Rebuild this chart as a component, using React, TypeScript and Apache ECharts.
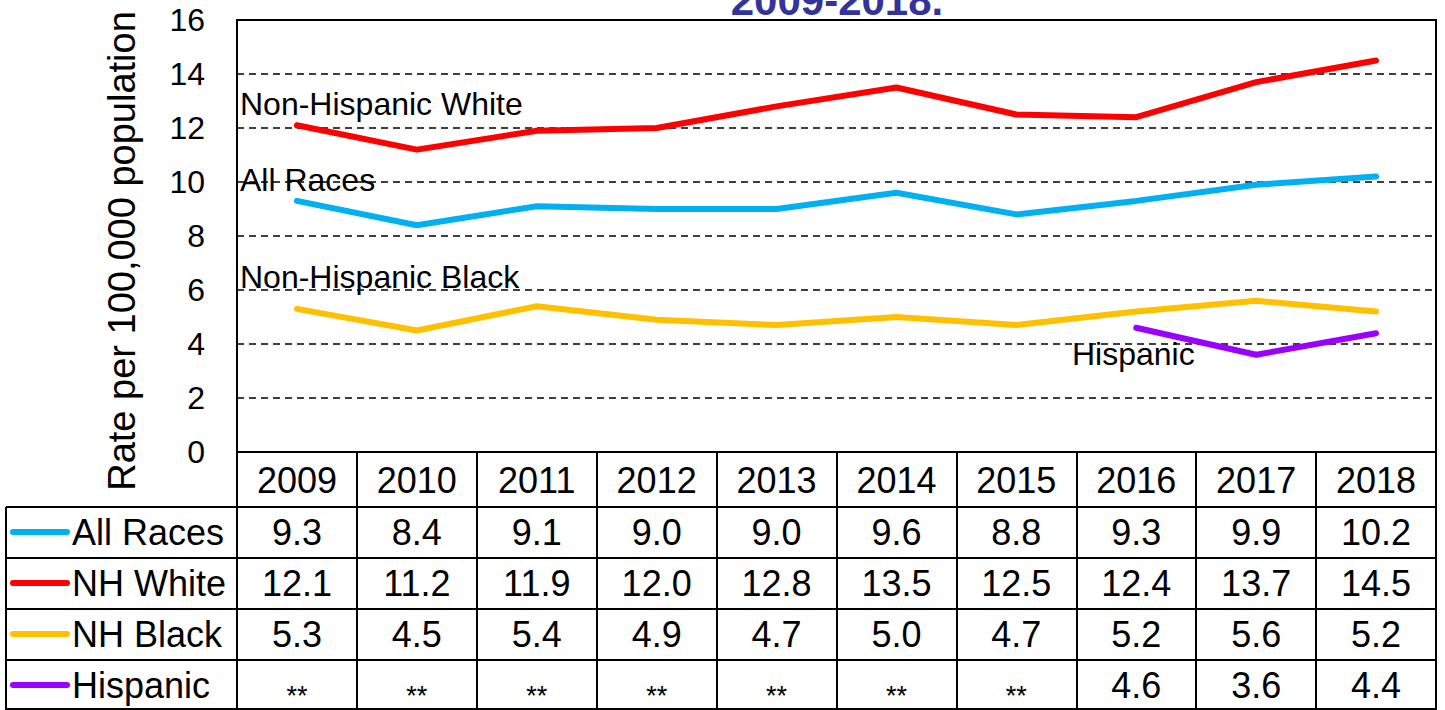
import React, { useEffect, useRef } from "react";
import * as echarts from "echarts";

const years = ["2009", "2010", "2011", "2012", "2013", "2014", "2015", "2016", "2017", "2018"];
const allRaces = [9.3, 8.4, 9.1, 9.0, 9.0, 9.6, 8.8, 9.3, 9.9, 10.2];
const nhWhite = [12.1, 11.2, 11.9, 12.0, 12.8, 13.5, 12.5, 12.4, 13.7, 14.5];
const nhBlack = [5.3, 4.5, 5.4, 4.9, 4.7, 5.0, 4.7, 5.2, 5.6, 5.2];
const hispanic: (number | null)[] = [null, null, null, null, null, null, null, 4.6, 3.6, 4.4];

const seriesNames = ["All Races", "NH White", "NH Black", "Hispanic"];
const seriesData = [allRaces, nhWhite, nhBlack, hispanic];
const seriesColors = ["#00B0F0", "#FF0000", "#FFC000", "#9A00FF"];
const lineLabels = ["All Races", "Non-Hispanic White", "Non-Hispanic Black", "Hispanic"];
const titleText = "2009-2018.";
const yAxisName = "Rate per 100,000 population";

const FONT = "'Liberation Sans', Arial, sans-serif";

export default function App() {
  const ref = useRef<HTMLDivElement>(null);
  useEffect(() => {
    if (!ref.current) return;
    const chart = echarts.init(ref.current, null, { renderer: "svg" });

    const fmt = (v: number | null) => (v == null ? "{s|**}" : "{v|" + v.toFixed(1) + "}");

    const gridLeft = 237;
    const gridRight = 1436;
    const rowLines = [507, 558, 609, 660, 709];
    const rowCenters = [532, 583, 634, 685];
    const labelPos: [number, number][] = [
      [240, 180],
      [240, 104],
      [240, 277],
      [1072, 354],
    ];

    const graphics: any[] = [];
    rowLines.forEach((y) => {
      graphics.push({
        type: "line",
        shape: { x1: 6, y1: y, x2: gridRight, y2: y },
        style: { stroke: "#000", lineWidth: 2 },
        z: 10,
      });
    });
    graphics.push({
      type: "line",
      shape: { x1: 6, y1: 507, x2: 6, y2: 710 },
      style: { stroke: "#000", lineWidth: 2 },
      z: 10,
    });
    seriesNames.forEach((name, i) => {
      graphics.push({
        type: "line",
        shape: { x1: 13, y1: rowCenters[i], x2: 67, y2: rowCenters[i] },
        style: { stroke: seriesColors[i], lineWidth: 6, lineCap: "round" },
        z: 10,
      });
      graphics.push({
        type: "text",
        x: 72,
        y: rowCenters[i],
        style: {
          text: name,
          font: `36px ${FONT}`,
          fill: "#000",
          textAlign: "left",
          textVerticalAlign: "middle",
        },
        z: 10,
      });
      graphics.push({
        type: "text",
        x: labelPos[i][0],
        y: labelPos[i][1],
        style: {
          text: lineLabels[i],
          font: `32px ${FONT}`,
          fill: "#000",
          textAlign: "left",
          textVerticalAlign: "middle",
        },
        z: 1,
      });
    });
    graphics.push({
      type: "text",
      x: 837,
      y: 0,
      style: {
        text: titleText,
        font: `bold 42px ${FONT}`,
        fill: "#333399",
        textAlign: "center",
        textVerticalAlign: "middle",
      },
      z: 10,
    });
    graphics.push({
      type: "text",
      x: 122,
      y: 251,
      rotation: Math.PI / 2,
      style: {
        text: yAxisName,
        font: `38px ${FONT}`,
        fill: "#000",
        textAlign: "center",
        textVerticalAlign: "middle",
      },
      z: 10,
    });

    chart.setOption({
      animation: false,
      backgroundColor: "#fff",
      textStyle: { fontFamily: FONT },
      grid: {
        left: gridLeft,
        right: 1445 - gridRight,
        top: 20,
        bottom: 258,
        show: true,
        borderColor: "#000",
        borderWidth: 2,
        backgroundColor: "transparent",
      },
      xAxis: {
        type: "category",
        data: years,
        boundaryGap: true,
        axisLine: { show: true, lineStyle: { color: "#000", width: 2 } },
        axisTick: {
          show: true,
          inside: false,
          length: 258,
          interval: 0,
          alignWithLabel: false,
          lineStyle: { color: "#000", width: 2 },
        },
        splitLine: { show: false },
        axisLabel: {
          interval: 0,
          margin: 2,
          color: "#000",
          formatter: (val: string, idx: number) =>
            "{y|" + val + "}\n" +
            fmt(allRaces[idx]) + "\n" +
            fmt(nhWhite[idx]) + "\n" +
            fmt(nhBlack[idx]) + "\n" +
            fmt(hispanic[idx]),
          rich: {
            y: { fontSize: 36, lineHeight: 53, color: "#000", fontFamily: FONT },
            v: { fontSize: 36, lineHeight: 51, color: "#000", fontFamily: FONT },
            s: { fontSize: 27, lineHeight: 51, color: "#000", fontFamily: FONT, padding: [20, 0, 0, 0] },
          },
        },
      },
      yAxis: {
        type: "value",
        min: 0,
        max: 16,
        interval: 2,
        axisLine: { show: true, lineStyle: { color: "#000", width: 2 } },
        axisTick: { show: false },
        axisLabel: { fontSize: 32, color: "#000", margin: 32, fontFamily: FONT },
        splitLine: { show: true, lineStyle: { color: "#000", width: 1.5, type: [7, 5] } },
      },
      series: seriesNames.map((name, i) => ({
        name,
        type: "line",
        data: seriesData[i],
        symbol: "none",
        connectNulls: false,
        z: 5,
        lineStyle: { color: seriesColors[i], width: 6, cap: "round", join: "round" },
        itemStyle: { color: seriesColors[i] },
      })),
      graphic: graphics,
    });

    return () => chart.dispose();
  }, []);

  return (
    <div
      ref={ref}
      style={{ position: "fixed", left: 0, top: 0, width: 1445, height: 710, background: "#fff" }}
    />
  );
}
